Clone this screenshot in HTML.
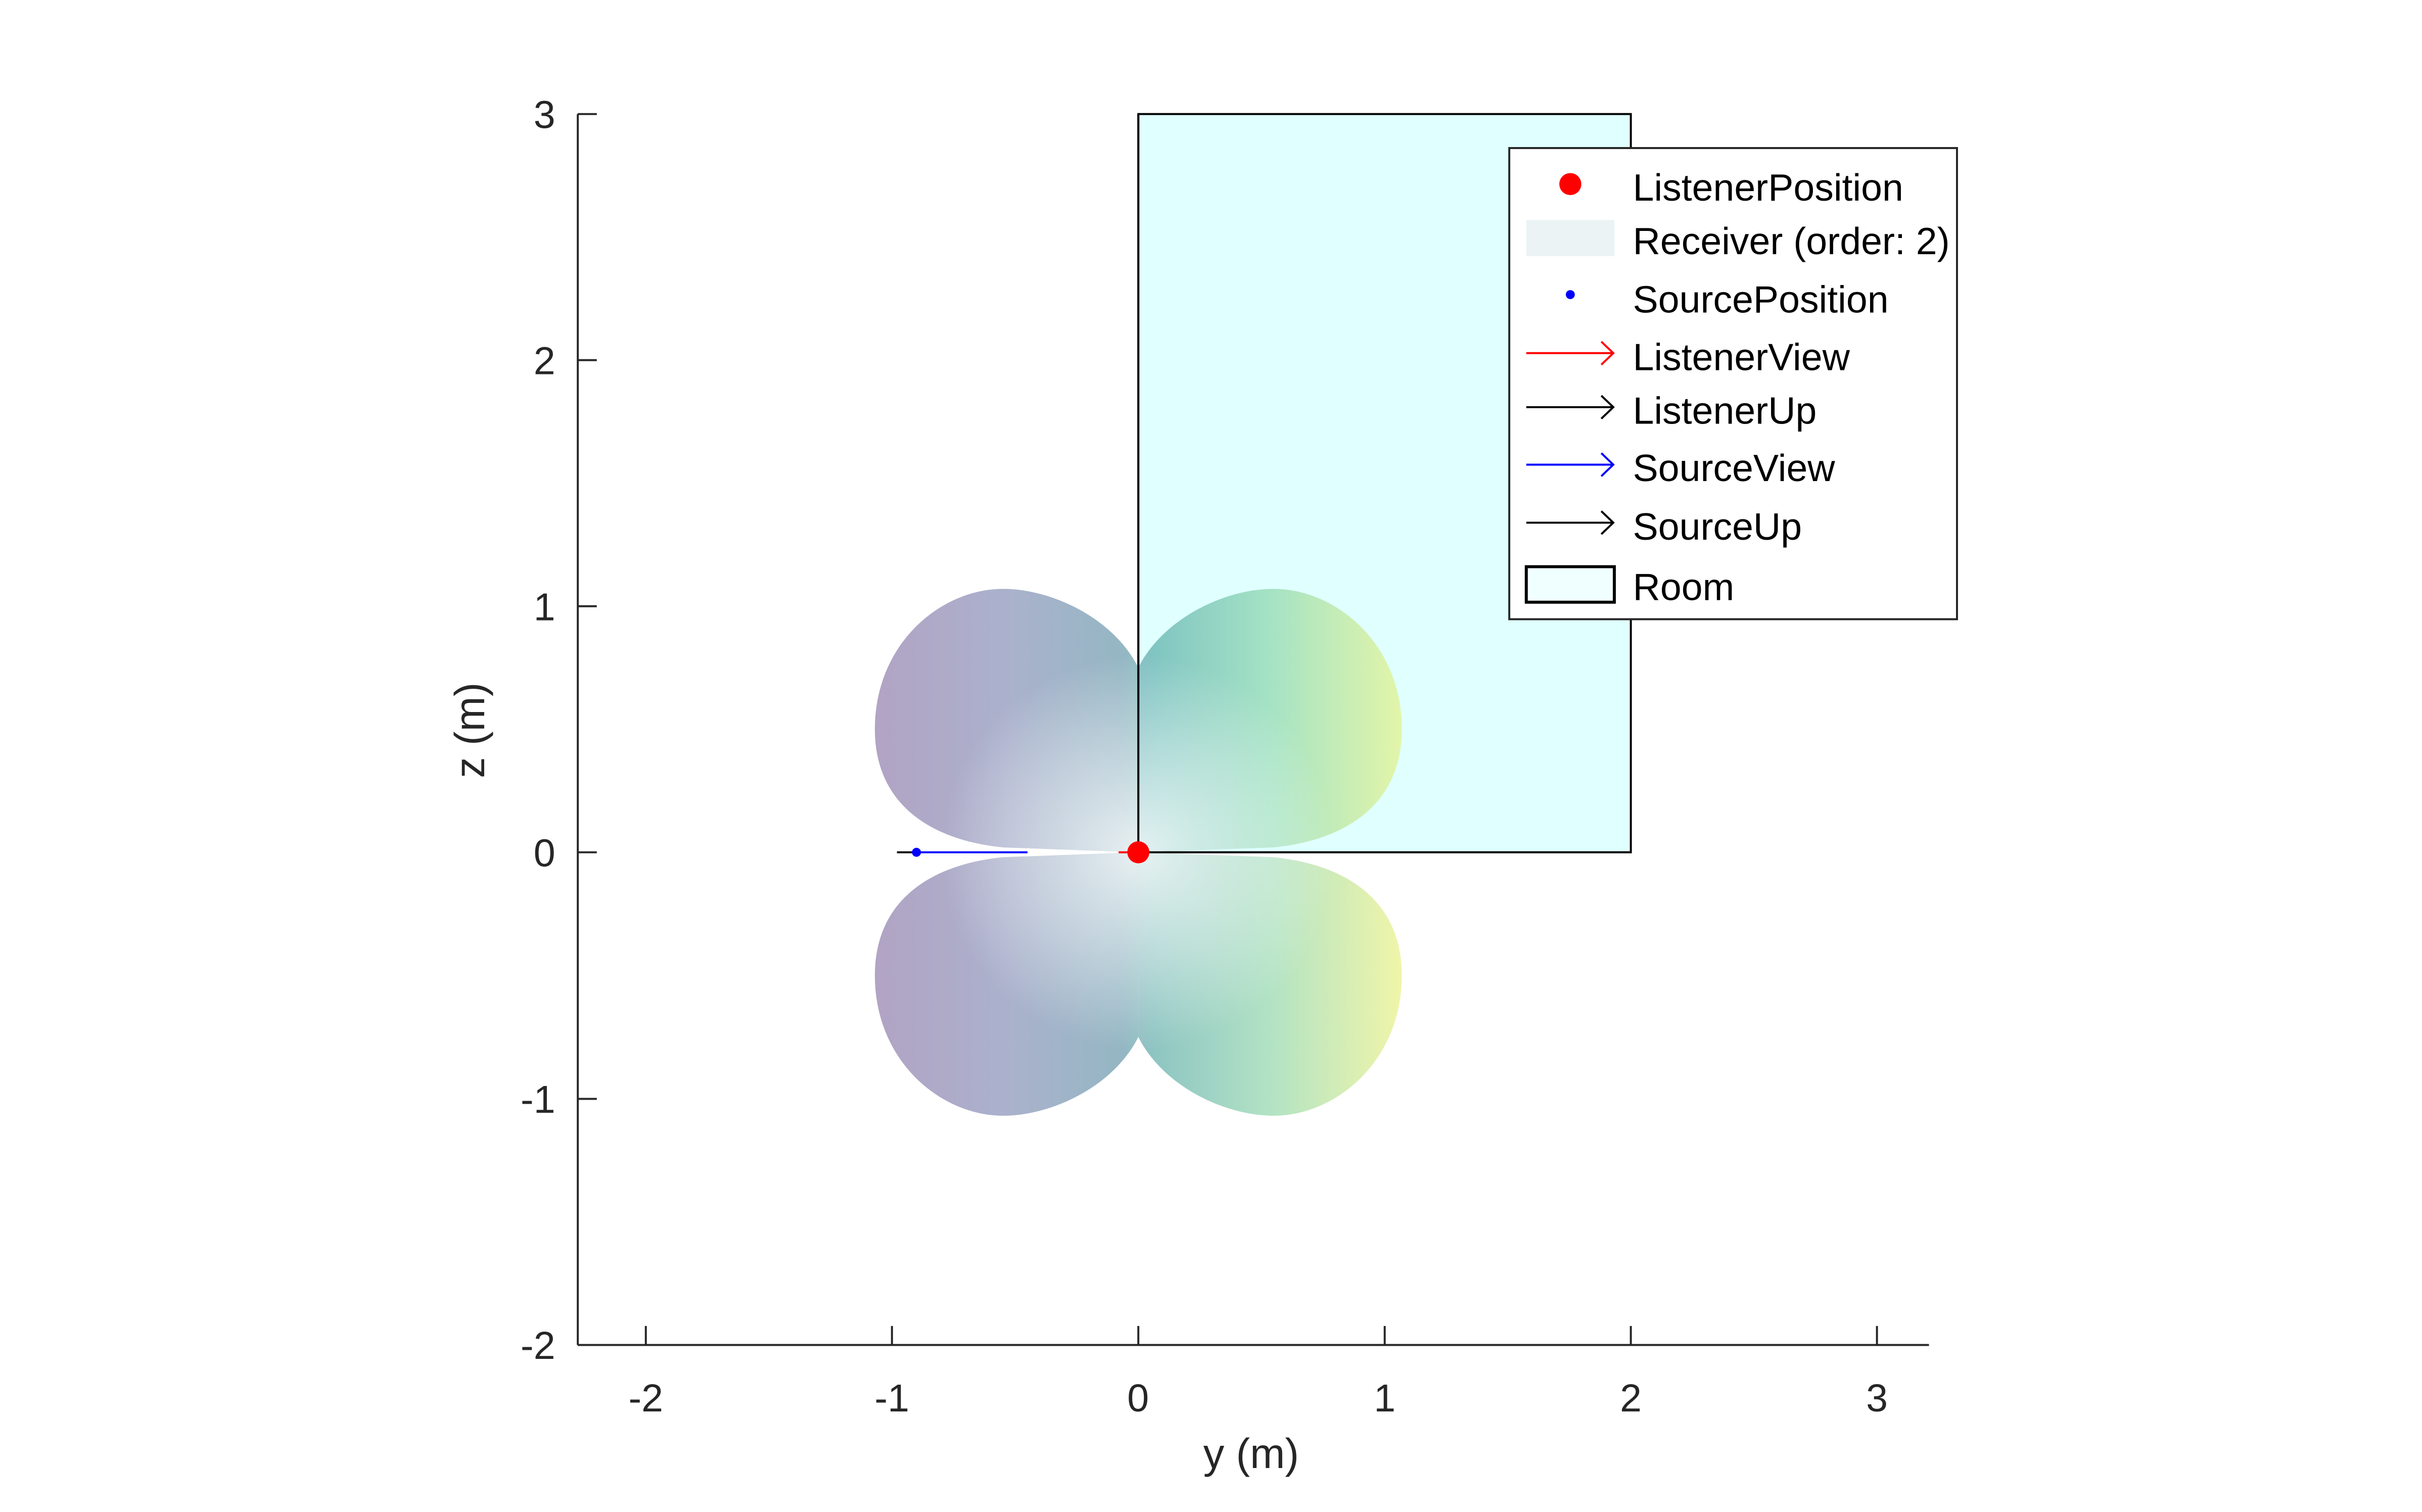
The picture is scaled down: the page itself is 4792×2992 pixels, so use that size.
<!DOCTYPE html>
<html><head><meta charset="utf-8"><style>
html,body{margin:0;padding:0;background:#fff;}
svg{display:block;}
text{font-family:"Liberation Sans",sans-serif;fill:#262626;}
</style></head><body>
<svg width="4792" height="2992" viewBox="0 0 4792 2992" xmlns="http://www.w3.org/2000/svg">
<defs>
<linearGradient id="lg" gradientUnits="userSpaceOnUse" x1="-1.07" y1="0" x2="1.07" y2="0">
<stop offset="0" stop-color="#6a4f8e"/>
<stop offset="0.25" stop-color="#5e6a9e"/>
<stop offset="0.47" stop-color="#33748d"/>
<stop offset="0.53" stop-color="#27908b"/>
<stop offset="0.75" stop-color="#6cc98f"/>
<stop offset="1" stop-color="#e2ec5a"/>
</linearGradient>
<radialGradient id="rg" gradientUnits="userSpaceOnUse" cx="0" cy="0" r="0.8">
<stop offset="0" stop-color="#fff" stop-opacity="0.8"/>
<stop offset="0.55" stop-color="#fff" stop-opacity="0.4"/>
<stop offset="1" stop-color="#fff" stop-opacity="0.05"/>
</radialGradient>
</defs>
<g transform="scale(0.98977)">
<rect x="2275.5" y="228" width="984.5" height="1476" fill="#e0ffff" stroke="#000" stroke-width="4"/>
<g transform="translate(2275.5,1704) scale(492.2,-492.2)" fill="url(#lg)" fill-opacity="0.55">
<path d="M0,0 L0,0.75 C0.1,0.95 0.35,1.07 0.55,1.07 C0.8,1.07 1.07,0.85 1.07,0.5 C1.07,0.2 0.85,0.05 0.55,0.02 Z"/>
<path d="M0,0 L0,0.75 C-0.1,0.95 -0.35,1.07 -0.55,1.07 C-0.8,1.07 -1.07,0.85 -1.07,0.5 C-1.07,0.2 -0.85,0.05 -0.55,0.02 Z"/>
<path d="M0,0 L0,-0.75 C0.1,-0.95 0.35,-1.07 0.55,-1.07 C0.8,-1.07 1.07,-0.85 1.07,-0.5 C1.07,-0.2 0.85,-0.05 0.55,-0.02 Z"/>
<path d="M0,0 L0,-0.75 C-0.1,-0.95 -0.35,-1.07 -0.55,-1.07 C-0.8,-1.07 -1.07,-0.85 -1.07,-0.5 C-1.07,-0.2 -0.85,-0.05 -0.55,-0.02 Z"/>
</g>
<g transform="translate(2275.5,1704) scale(492.2,-492.2)" fill="url(#rg)">
<path d="M0,0 L0,0.75 C0.1,0.95 0.35,1.07 0.55,1.07 C0.8,1.07 1.07,0.85 1.07,0.5 C1.07,0.2 0.85,0.05 0.55,0.02 Z"/>
<path d="M0,0 L0,0.75 C-0.1,0.95 -0.35,1.07 -0.55,1.07 C-0.8,1.07 -1.07,0.85 -1.07,0.5 C-1.07,0.2 -0.85,0.05 -0.55,0.02 Z"/>
<path d="M0,0 L0,-0.75 C0.1,-0.95 0.35,-1.07 0.55,-1.07 C0.8,-1.07 1.07,-0.85 1.07,-0.5 C1.07,-0.2 0.85,-0.05 0.55,-0.02 Z"/>
<path d="M0,0 L0,-0.75 C-0.1,-0.95 -0.35,-1.07 -0.55,-1.07 C-0.8,-1.07 -1.07,-0.85 -1.07,-0.5 C-1.07,-0.2 -0.85,-0.05 -0.55,-0.02 Z"/>
</g>
<line x1="2275.5" y1="228" x2="2275.5" y2="1704" stroke="#000" stroke-width="4"/>
<line x1="2275.5" y1="1704" x2="3260" y2="1704" stroke="#000" stroke-width="4"/>
<line x1="1793" y1="1704" x2="1832" y2="1704" stroke="#000" stroke-width="4"/>
<line x1="1832" y1="1704" x2="2054" y2="1704" stroke="#0000ff" stroke-width="4"/>
<circle cx="1832" cy="1704" r="9" fill="#0000ff"/>
<line x1="2236" y1="1704" x2="2275" y2="1704" stroke="#ff0000" stroke-width="4"/>
<circle cx="2275.5" cy="1704" r="22" fill="#ff0000"/>
<g stroke="#262626" stroke-width="4" fill="none">
<line x1="1155" y1="228" x2="1155" y2="2689"/>
<line x1="1155" y1="2689" x2="3856" y2="2689"/>
<line x1="1291" y1="2689" x2="1291" y2="2651"/>
<line x1="1783" y1="2689" x2="1783" y2="2651"/>
<line x1="2275.5" y1="2689" x2="2275.5" y2="2651"/>
<line x1="2768" y1="2689" x2="2768" y2="2651"/>
<line x1="3260" y1="2689" x2="3260" y2="2651"/>
<line x1="3752" y1="2689" x2="3752" y2="2651"/>
<line x1="1155" y1="228" x2="1193" y2="228"/>
<line x1="1155" y1="720" x2="1193" y2="720"/>
<line x1="1155" y1="1212" x2="1193" y2="1212"/>
<line x1="1155" y1="1704" x2="1193" y2="1704"/>
<line x1="1155" y1="2197" x2="1193" y2="2197"/>
<line x1="1155" y1="2689" x2="1193" y2="2689"/>
</g>
<g font-size="78" text-anchor="middle">
<text x="1291" y="2822">-2</text>
<text x="1783" y="2822">-1</text>
<text x="2275" y="2822">0</text>
<text x="2768" y="2822">1</text>
<text x="3260" y="2822">2</text>
<text x="3752" y="2822">3</text>
</g>
<g font-size="78" text-anchor="end">
<text x="1110" y="256">3</text>
<text x="1110" y="748">2</text>
<text x="1110" y="1240">1</text>
<text x="1110" y="1732">0</text>
<text x="1110" y="2225">-1</text>
<text x="1110" y="2717">-2</text>
</g>
<text x="2501" y="2935" font-size="84" text-anchor="middle">y (m)</text>
<text x="0" y="0" font-size="84" text-anchor="middle" transform="translate(968,1460) rotate(-90)">z (m)</text>
<rect x="3017" y="296" width="895" height="942" fill="#fff" stroke="#262626" stroke-width="4"/>
<circle cx="3139" cy="368" r="22" fill="#ff0000"/>
<rect x="3051" y="440" width="176" height="72" fill="#ebf3f4"/>
<circle cx="3139" cy="589" r="9" fill="#0000ff"/>
<g stroke-width="4" fill="none">
<path d="M3051,706 H3225 M3201,683 L3225,706 L3201,729" stroke="#ff0000"/>
<path d="M3051,814 H3225 M3201,791 L3225,814 L3201,837" stroke="#000"/>
<path d="M3051,929 H3225 M3201,906 L3225,929 L3201,952" stroke="#0000ff"/>
<path d="M3051,1045 H3225 M3201,1022 L3225,1045 L3201,1068" stroke="#000"/>
<rect x="3051" y="1133" width="176" height="71" fill="#f0ffff" stroke="#000" stroke-width="6"/>
</g>
<g font-size="76">
<text x="3264" y="401" style="fill:#000">ListenerPosition</text>
<text x="3264" y="508" style="fill:#000">Receiver (order: 2)</text>
<text x="3264" y="625" style="fill:#000">SourcePosition</text>
<text x="3264" y="740" style="fill:#000">ListenerView</text>
<text x="3264" y="847" style="fill:#000">ListenerUp</text>
<text x="3264" y="962" style="fill:#000">SourceView</text>
<text x="3264" y="1079" style="fill:#000">SourceUp</text>
<text x="3264" y="1200" style="fill:#000">Room</text>
</g>
</g>
</svg>
</body></html>
